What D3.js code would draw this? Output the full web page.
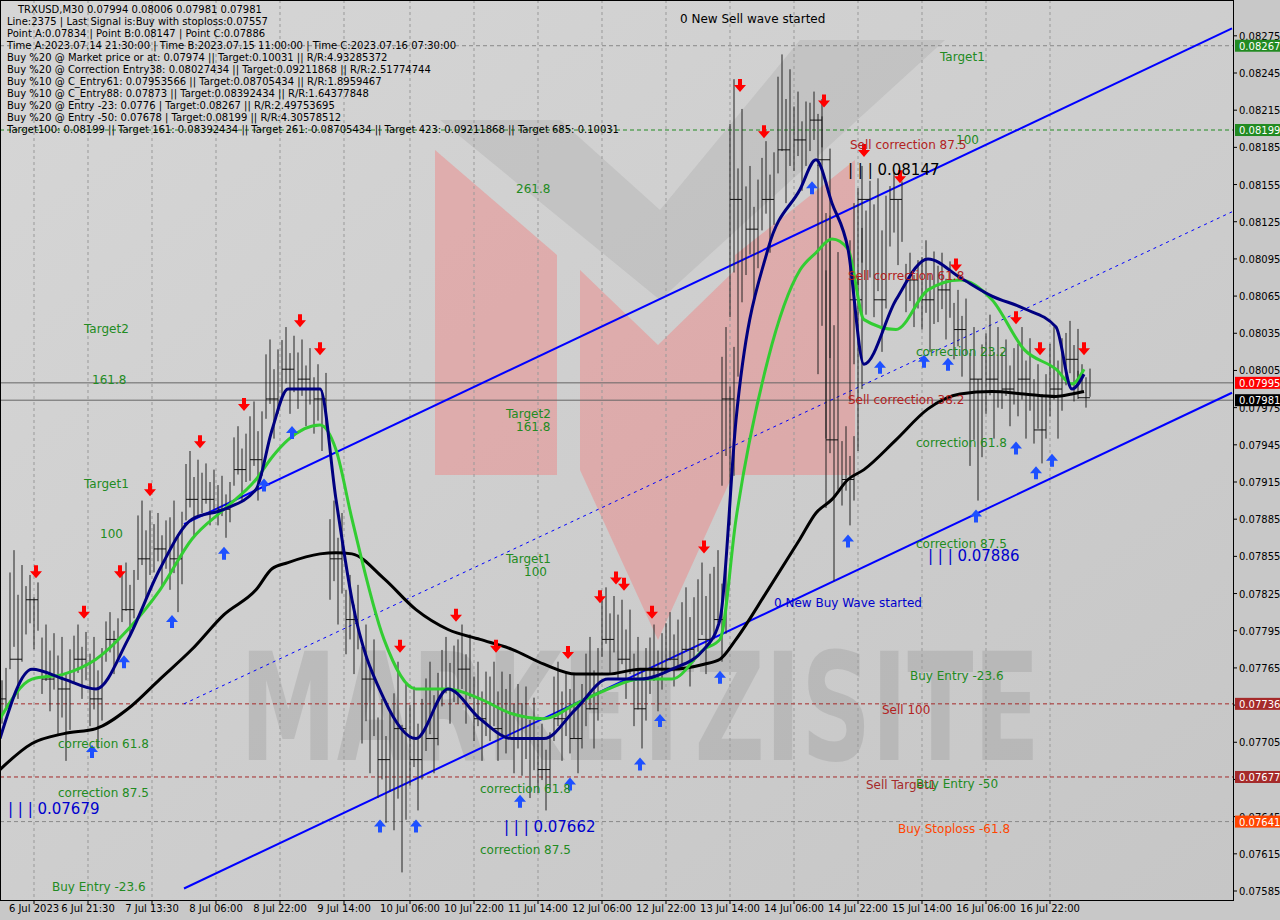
<!DOCTYPE html><html><head><meta charset="utf-8">
<script src="https://cdn.jsdelivr.net/npm/d3@7"></script>
<style>body{margin:0;background:#c8c8c8}svg{display:block}text{font-family:"DejaVu Sans",sans-serif}</style></head><body>
<svg id="c" width="1280" height="920"></svg>
<script>
const barIdx=[0,8,16,24,32,40,48,56,64,72,80,88,96,104,112,120,128,136,144,152,160,168,176,184,192,200,208,216,224,232,240,248,256,264,272,280,288,296,304,312,320,328,336,344,352,360,364,368,376,384,392,400,408,412,416,424,428,432,440,448,456,464,472,480,488,496,504,512,520,528,536,542];
const close=[7740,7772,7820,7756,7748,7772,7740,7788,7812,7853,7861,7853,7901,7901,7893,7925,7933,7982,8006,7998,7982,7853,7804,7756,7691,7716,7691,7708,7748,7764,7724,7716,7708,7708,7683,7724,7708,7732,7788,7772,7732,7764,7772,7780,7788,7804,7982,8143,8119,8143,8183,8191,8207,8175,7949,7917,8062,8143,8062,8143,8078,8062,8070,8038,7998,7998,7990,7998,7957,7990,8014,7983];
const high=[7770,7860,7840,7800,7790,7800,7790,7810,7850,7900,7890,7900,7940,7930,7920,7960,7980,8030,8040,8030,8010,7900,7840,7800,7740,7770,7750,7770,7790,7800,7770,7770,7760,7750,7720,7770,7760,7790,7830,7820,7790,7800,7810,7830,7850,7860,8040,8240,8170,8190,8260,8230,8230,8210,8130,7960,8140,8170,8160,8165,8100,8110,8100,8070,8040,8050,8030,8040,8010,8040,8045,8010];
const low=[7720,7740,7780,7730,7690,7740,7700,7760,7790,7820,7830,7810,7870,7880,7870,7900,7900,7950,7970,7960,7940,7800,7760,7680,7640,7600,7650,7680,7720,7720,7690,7690,7680,7660,7650,7690,7680,7700,7760,7740,7700,7730,7750,7750,7760,7770,7880,8000,8060,8100,8140,8150,8170,7950,7835,7880,7940,8050,8020,8090,8040,8020,8030,8000,7900,7950,7960,7950,7930,7950,7980,7975];
const maIdx=[0,16,32,48,64,80,96,112,128,136,144,160,168,176,192,208,224,240,256,272,288,304,320,336,352,360,368,384,400,408,416,424,432,448,464,480,496,512,528,536,542];
const blackMA=[7683,7704,7712,7716,7732,7756,7780,7808,7828,7845,7850,7857,7858,7857,7837,7812,7796,7788,7780,7768,7760,7760,7764,7764,7768,7772,7788,7828,7869,7890,7901,7917,7925,7949,7974,7986,7988,7986,7984,7986,7988];
const greenMA=[7724,7756,7760,7772,7796,7828,7869,7893,7917,7935,7949,7961,7941,7885,7788,7748,7748,7740,7728,7724,7736,7748,7756,7756,7780,7788,7885,8014,8086,8100,8111,8103,8046,8038,8070,8078,8062,8022,8006,7994,8006];
const navyMA=[7708,7764,7756,7748,7788,7845,7885,7893,7909,7957,7990,7990,7901,7820,7740,7708,7748,7724,7708,7708,7732,7756,7756,7764,7780,7804,7965,8103,8151,8175,8140,8103,8010,8062,8095,8080,8065,8055,8040,7990,8002];
const timeLabels=["6 Jul 2023","6 Jul 21:30","7 Jul 13:30","8 Jul 06:00","8 Jul 22:00","9 Jul 14:00","10 Jul 06:00","10 Jul 22:00","11 Jul 14:00","12 Jul 06:00","12 Jul 22:00","13 Jul 14:00","14 Jul 06:00","14 Jul 22:00","15 Jul 14:00","16 Jul 06:00","16 Jul 22:00"];
const timeLabelIdx=[17,44,76,108,140,172,205,237,269,301,333,365,397,429,461,493,525];
const yTicks=[8275,8245,8215,8185,8155,8125,8095,8065,8035,8005,7975,7945,7915,7885,7855,7825,7795,7765,7735,7705,7675,7645,7615,7585];
const levels=[{v:8267,c:"#888",d:"4,3",box:"#228b22"},{v:8199,c:"#228b22",d:"4,3",box:"#228b22"},{v:7995,c:"#666",d:null,box:"#ff0000"},{v:7981,c:"#666",d:null,box:"#000"},{v:7736,c:"#a52a2a",d:"4,3",box:"#a52a2a"},{v:7677,c:"#a52a2a",d:"4,3",box:"#a52a2a"},{v:7641,c:"#888",d:"4,3",box:"#ff4500"}];
const channel={upper:[[92,7881],[616,8281]],lower:[[92,7587],[616,7987]],mid:[[92,7736],[616,8133]]};
const sellArrows=[18,42,60,75,100,122,150,160,200,228,248,284,300,308,312,326,352,370,382,412,432,450,478,508,520,542];
const buyArrows=[46,62,86,112,132,146,190,208,260,285,320,330,360,406,424,440,462,474,488,508,518,526];
const headerLines=["TRXUSD,M30  0.07994 0.08006 0.07981 0.07981","Line:2375 | Last Signal is:Buy with stoploss:0.07557","Point A:0.07834 | Point B:0.08147 | Point C:0.07886","Time A:2023.07.14 21:30:00 | Time B:2023.07.15 11:00:00 | Time C:2023.07.16 07:30:00","Buy %20 @ Market price or at: 0.07974 || Target:0.10031 || R/R:4.93285372","Buy %20 @ Correction Entry38: 0.08027434 || Target:0.09211868 || R/R:2.51774744","Buy %10 @ C_Entry61: 0.07953566 || Target:0.08705434 || R/R:1.8959467","Buy %10 @ C_Entry88: 0.07873 || Target:0.08392434 || R/R:1.64377848","Buy %20 @ Entry -23: 0.0776 | Target:0.08267 || R/R:2.49753695","Buy %20 @ Entry -50: 0.07678 | Target:0.08199 || R/R:4.30578512","Target100: 0.08199 || Target 161: 0.08392434 || Target 261: 0.08705434 || Target 423: 0.09211868 || Target 685: 0.10031"];
const chartLabels=[{t:"0 New Sell wave started",i:340,v:8285,c:"#000"},{t:"Target1",i:470,v:8255,c:"#228b22"},{t:"100",i:478,v:8188,c:"#228b22"},{t:"Sell correction 87.5",i:425,v:8184,c:"#b22222"},{t:"| | | 0.08147",i:424,v:8163,c:"#000",s:15},{t:"261.8",i:258,v:8148,c:"#228b22"},{t:"Sell correction 61.8",i:424,v:8078,c:"#b22222"},{t:"Target2",i:42,v:8035,c:"#228b22"},{t:"161.8",i:46,v:7994,c:"#228b22"},{t:"correction 23.2",i:458,v:8017,c:"#228b22"},{t:"Target2",i:253,v:7967,c:"#228b22"},{t:"161.8",i:258,v:7956,c:"#228b22"},{t:"Sell correction 38.2",i:424,v:7978,c:"#b22222"},{t:"correction 61.8",i:458,v:7943,c:"#228b22"},{t:"Target1",i:42,v:7910,c:"#228b22"},{t:"100",i:50,v:7870,c:"#228b22"},{t:"correction 87.5",i:458,v:7862,c:"#228b22"},{t:"| | | 0.07886",i:464,v:7851,c:"#0000cd",s:15},{t:"Target1",i:253,v:7850,c:"#228b22"},{t:"100",i:262,v:7839,c:"#228b22"},{t:"0 New Buy Wave started",i:387,v:7814,c:"#0000cd"},{t:"Buy Entry -23.6",i:455,v:7755,c:"#228b22"},{t:"Sell 100",i:441,v:7728,c:"#b22222"},{t:"correction 61.8",i:29,v:7700,c:"#228b22"},{t:"Sell Target1",i:433,v:7667,c:"#a52a2a"},{t:"Buy Entry -50",i:458,v:7668,c:"#228b22"},{t:"correction 87.5",i:29,v:7661,c:"#228b22"},{t:"correction 61.8",i:240,v:7664,c:"#228b22"},{t:"| | | 0.07679",i:4,v:7647,c:"#0000cd",s:15},{t:"| | | 0.07662",i:252,v:7633,c:"#0000cd",s:15},{t:"Buy Stoploss -61.8",i:449,v:7632,c:"#ff4500"},{t:"correction 87.5",i:240,v:7615,c:"#228b22"},{t:"Buy Entry -23.6",i:26,v:7585,c:"#228b22"}];

const svg=d3.select("#c");
const W=1233,H=900;
const x=d3.scaleLinear().domain([0,616.5]).range([0,W]);
const y=d3.scaleLinear().domain([8245,7585]).range([73,891]);
const g=svg.append("g");
const defs=svg.append("defs");
const lg=defs.append("linearGradient").attr("id","bg").attr("x1",0).attr("y1",0).attr("x2",1).attr("y2",1);
lg.append("stop").attr("offset",0).attr("stop-color","#d6d6d6");lg.append("stop").attr("offset",1).attr("stop-color","#c6c6c6");
g.append("rect").attr("x",0).attr("y",0).attr("width",W).attr("height",H).attr("fill","url(#bg)");
g.append("path").attr("d","M435,150 L557,255 L557,475 L435,475Z M735,255 L855,160 L855,475 L735,475Z M580,270 L658,345 L735,270 L735,470 L658,640 L580,470Z").attr("fill","#f08080").attr("opacity",0.45);
g.append("path").attr("d","M440,120 L560,120 L660,210 L800,40 L945,40 L660,300Z").attr("fill","#b0b0b0").attr("opacity",0.4);
g.append("text").attr("x",640).attr("y",760).attr("text-anchor","middle").attr("font-size",150).attr("font-weight","bold").attr("fill","#999").attr("opacity",0.35).attr("textLength",800).attr("lengthAdjust","spacingAndGlyphs").text("MARKETZISITE");
timeLabelIdx.forEach(i=>g.append("line").attr("x1",x(i)).attr("x2",x(i)).attr("y1",0).attr("y2",H).attr("stroke","#999").attr("stroke-dasharray","3,3"));
yTicks.forEach(v=>{if(v%60===5)g.append("line").attr("x1",0).attr("x2",W).attr("y1",y(v)).attr("y2",y(v)).attr("stroke","#aaa").attr("stroke-dasharray","3,3");});
levels.forEach(l=>{const ln=g.append("line").attr("x1",0).attr("x2",W).attr("y1",y(l.v)).attr("y2",y(l.v)).attr("stroke",l.c);if(l.d)ln.attr("stroke-dasharray",l.d);});
[["upper",null],["lower",null],["mid","3,4"]].forEach(([k,d])=>{const p=channel[k];const ln=g.append("line").attr("x1",x(p[0][0])).attr("y1",y(p[0][1])).attr("x2",x(p[1][0])).attr("y2",y(p[1][1])).attr("stroke","#0000ff").attr("stroke-width",d?1:2);if(d)ln.attr("stroke-dasharray",d);});
barIdx.forEach((b,k)=>{const r=high[k]-low[k];for(let j=0;j<4;j++){const xi=x(b)+j*4-6;const f=[0.15,0,0.3,0.1][j],f2=[0.2,0.35,0,0.25][j];g.append("line").attr("x1",xi).attr("x2",xi).attr("y1",y(high[k]-r*f)).attr("y2",y(low[k]+r*f2)).attr("stroke","#222").attr("stroke-width",1);}
 g.append("line").attr("x1",x(b)-6).attr("x2",x(b)+6).attr("y1",y(close[k])).attr("y2",y(close[k])).attr("stroke","#111");});
const line=(xs,vs)=>d3.line().curve(d3.curveMonotoneX).x((d,i)=>x(xs[i])).y(d=>y(d))(vs);
g.append("path").attr("d",line(maIdx,blackMA)).attr("fill","none").attr("stroke","#000").attr("stroke-width",3);
g.append("path").attr("d",line(maIdx,greenMA)).attr("fill","none").attr("stroke","#32cd32").attr("stroke-width",3);
g.append("path").attr("d",line(maIdx,navyMA)).attr("fill","none").attr("stroke","#000080").attr("stroke-width",3);
const interp=(i,arr,xs)=>{let k=d3.bisectLeft(xs,i);k=Math.max(1,Math.min(xs.length-1,k));const t=(i-xs[k-1])/(xs[k]-xs[k-1]);return arr[k-1]+(arr[k]-arr[k-1])*t;};
sellArrows.forEach(i=>{const v=interp(i,high,barIdx);const X=x(i),Y=y(v)-14;g.append("path").attr("d",`M${X-2},${Y-8}h4v6h4l-6,7l-6,-7h4z`).attr("fill","#ff0000");});
buyArrows.forEach(i=>{const v=interp(i,low,barIdx);const X=x(i),Y=y(v)+14;g.append("path").attr("d",`M${X-2},${Y+8}h4v-6h4l-6,-7l-6,7h4z`).attr("fill","#1e50ff");});
chartLabels.forEach(l=>g.append("text").attr("x",x(l.i)).attr("y",y(l.v)).attr("font-size",l.s||12).attr("fill",l.c).attr("font-family","Liberation Sans, sans-serif").text(l.t));
headerLines.forEach((t,i)=>svg.append("text").attr("x",i?7:18).attr("y",13+i*12).attr("font-size",10).attr("fill","#000").attr("font-family","Liberation Sans, sans-serif").text(t));
svg.append("rect").attr("x",0.5).attr("y",0.5).attr("width",W).attr("height",H).attr("fill","none").attr("stroke","#000");
svg.append("rect").attr("x",W+1).attr("y",0).attr("width",47).attr("height",920).attr("fill","#c8c8c8");
svg.append("line").attr("x1",W+0.5).attr("x2",W+0.5).attr("y1",0).attr("y2",H).attr("stroke","#000");
yTicks.forEach(v=>{svg.append("line").attr("x1",W).attr("x2",W+4).attr("y1",y(v)).attr("y2",y(v)).attr("stroke","#000");svg.append("text").attr("x",W+6).attr("y",y(v)+4).attr("font-size",10).attr("fill","#000").text((v/1e5).toFixed(5));});
levels.forEach(l=>{svg.append("rect").attr("x",W+2).attr("y",y(l.v)-6).attr("width",46).attr("height",12).attr("fill",l.box);svg.append("text").attr("x",W+6).attr("y",y(l.v)+4).attr("font-size",10).attr("fill","#fff").text((l.v/1e5).toFixed(5));});
timeLabels.forEach((t,i)=>{svg.append("line").attr("x1",x(timeLabelIdx[i])).attr("x2",x(timeLabelIdx[i])).attr("y1",H).attr("y2",H+4).attr("stroke","#000");svg.append("text").attr("x",x(timeLabelIdx[i])).attr("y",912).attr("text-anchor","middle").attr("font-size",10).attr("fill","#000").text(t);});
</script></body></html>
